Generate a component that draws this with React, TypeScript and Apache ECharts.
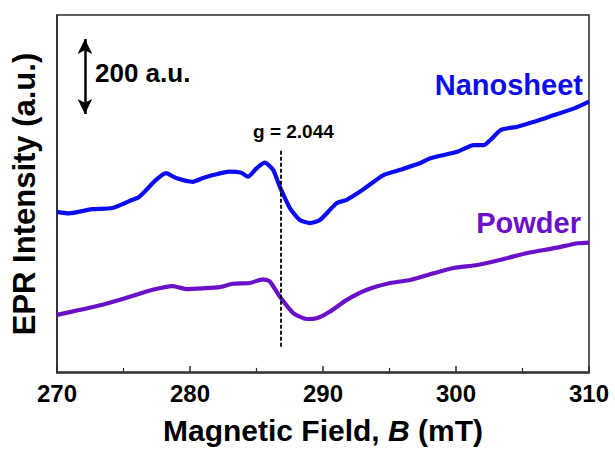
import React, { useEffect, useRef } from "react";
import * as echarts from "echarts";

// Magnetic field (mT) and EPR intensity (a.u.)
const nanoB = [270.0, 270.9, 272.64, 274.15, 275.66, 276.19, 277.45, 278.2, 278.96, 280.2, 280.97, 281.72, 282.98, 283.86, 284.36, 285.0, 285.62, 286.25, 286.75, 287.51, 288.26, 289.02, 289.77, 291.03, 291.79, 292.79, 293.3, 294.55, 295.81, 297.32, 298.08, 300.09, 301.34, 302.1, 302.6, 303.36, 304.62, 305.87, 307.38, 308.89, 310.0];
const nanoI = [427, 423, 434, 437, 459, 467, 512, 530, 517, 507, 517, 525, 534, 531, 521, 543, 558, 539, 494, 437, 405, 397, 405, 450, 459, 481, 494, 525, 539, 557, 570, 587, 605, 605, 619, 645, 654, 667, 685, 703, 721];

const powB = [270.0, 271.66, 273.42, 275.18, 277.19, 278.7, 279.71, 280.97, 282.23, 283.23, 284.49, 285.49, 286.0, 286.75, 287.76, 288.77, 289.52, 290.53, 291.79, 293.3, 295.06, 296.57, 298.32, 299.83, 301.6, 303.36, 305.37, 307.38, 309.15, 310.0];
const powI = [152, 165, 179, 197, 219, 229, 221, 223, 226, 235, 237, 247, 241, 201, 157, 141, 143, 161, 192, 219, 237, 245, 263, 277, 285, 299, 317, 330, 343, 345];

const seriesNames = ["Nanosheet", "Powder"];
const gValueLabel = "g = 2.044";
const gFieldB = 286.8;
const scaleBarLabel = "200 a.u.";
const scaleBarB = 272.1;
const scaleBarFrom = 688;
const scaleBarTo = 888;

const BLUE = "#0c0cf2";
const PURPLE = "#6a10c8";
const FONT = "'Liberation Sans', Arial, sans-serif";

export default function App() {
  const ref = useRef<HTMLDivElement>(null);
  useEffect(() => {
    document.body.style.margin = "0";
    const chart = echarts.init(ref.current!, null, { renderer: "svg" });
    const toPairs = (xs: number[], ys: number[]) => xs.map((x, i) => [x, ys[i]]);
    chart.setOption({
      animation: false,
      grid: {
        left: 57,
        right: 26,
        top: 15,
        bottom: 82,
        show: true,
        borderColor: "#2a2a2a",
        borderWidth: 1.5,
        containLabel: false,
      },
      xAxis: {
        type: "value",
        min: 270,
        max: 310,
        interval: 10,
        axisLine: { show: true, lineStyle: { color: "#2a2a2a", width: 1.5 } },
        axisTick: { show: true, inside: true, length: 6, lineStyle: { color: "#2a2a2a", width: 1.5 } },
        minorTick: { show: true, splitNumber: 2, length: 4, lineStyle: { color: "#2a2a2a", width: 1.2 } },
        splitLine: { show: false },
        axisLabel: {
          margin: 8,
          fontFamily: FONT,
          fontWeight: "bold",
          fontSize: 24,
          color: "#000",
        },
        name: "{b|Magnetic Field, }{i|B}{b| (mT)}",
        nameLocation: "middle",
        nameGap: 42,
        nameTextStyle: {
          rich: {
            b: { fontFamily: FONT, fontWeight: "bold", fontSize: 30, color: "#000" },
            i: { fontFamily: FONT, fontWeight: "bold", fontStyle: "italic", fontSize: 30, color: "#000" },
          },
        },
      },
      yAxis: {
        type: "value",
        min: -3,
        max: 952,
        axisLine: { show: true, lineStyle: { color: "#2a2a2a", width: 1.5 } },
        axisTick: { show: false },
        axisLabel: { show: false },
        splitLine: { show: false },
        name: "EPR Intensity (a.u.)",
        nameLocation: "middle",
        nameRotate: 90,
        nameGap: 17,
        nameTextStyle: { fontFamily: FONT, fontWeight: "bold", fontSize: 31, color: "#000" },
      },
      series: [
        {
          name: seriesNames[0],
          type: "line",
          data: toPairs(nanoB, nanoI),
          showSymbol: false,
          smooth: 0.2,
          lineStyle: { color: BLUE, width: 4.2 },
          markLine: {
            silent: true,
            symbol: ["arrow", "arrow"],
            symbolSize: [11, 15],
            label: { show: false },
            lineStyle: { color: "#000", width: 2.5, type: "solid" },
            data: [[{ coord: [scaleBarB, scaleBarFrom] }, { coord: [scaleBarB, scaleBarTo] }]],
          },
        },
        {
          name: seriesNames[1],
          type: "line",
          data: toPairs(powB, powI),
          showSymbol: false,
          smooth: 0.2,
          lineStyle: { color: PURPLE, width: 4.2 },
          markLine: {
            silent: true,
            symbol: ["none", "none"],
            label: { show: false },
            lineStyle: { color: "#000", width: 1.8, type: [4, 2] },
            data: [[{ coord: [gFieldB, 67] }, { coord: [gFieldB, 592] }]],
          },
        },
      ],
      graphic: [
        {
          type: "text",
          left: 95,
          top: 60,
          style: { text: scaleBarLabel, font: `bold 26px ${FONT}`, fill: "#000" },
        },
        {
          type: "text",
          right: 32,
          top: 70,
          style: { text: seriesNames[0], font: `bold 29px ${FONT}`, fill: BLUE },
        },
        {
          type: "text",
          right: 34,
          top: 208,
          style: { text: seriesNames[1], font: `bold 29px ${FONT}`, fill: PURPLE },
        },
        {
          type: "text",
          left: 253,
          top: 122,
          style: { text: gValueLabel, font: `bold 19px ${FONT}`, fill: "#000" },
        },
      ],
    });
    return () => chart.dispose();
  }, []);
  return <div ref={ref} style={{ width: 615, height: 455 }} />;
}
